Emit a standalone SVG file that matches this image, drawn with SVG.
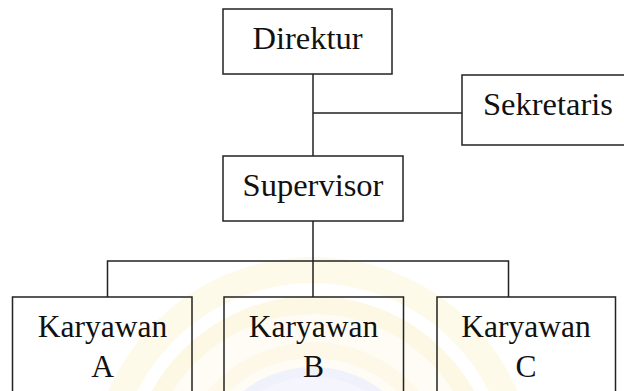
<svg xmlns="http://www.w3.org/2000/svg" width="624" height="391" viewBox="0 0 624 391">
  <style>
    .box { fill: none; stroke: #222; stroke-width: 1.5; }
    .line { fill: none; stroke: #222; stroke-width: 1.5; }
    .label { font-family: "Liberation Serif", "Times New Roman", serif; font-size: 32.5px; fill: #111; text-anchor: middle; }
    .small { font-size: 31.5px; }
  </style>
  <rect width="624" height="391" fill="#ffffff"/>
  <g id="watermark" opacity="0.55">
    <circle cx="313" cy="480" r="210" fill="none" stroke="#fdf6d8" stroke-width="26"/>
    <circle cx="313" cy="480" r="175" fill="#fefbec" stroke="#fcf3cf" stroke-width="18"/>
    <circle cx="313" cy="480" r="130" fill="none" stroke="#fcf4d4" stroke-width="16"/>
    <circle cx="313" cy="480" r="108" fill="#eef0fc" stroke="#e3e6f9" stroke-width="10"/>
  </g>
  <g id="connectors">
    <path class="line" d="M313 74 V156 M313 113 H462 M313 221 V297 M107.5 297 V261 H508.5 V297"/>
  </g>
  <g id="direktur">
    <rect class="box" x="223" y="9" width="169" height="65"/>
    <text class="label" x="307.5" y="48.5">Direktur</text>
  </g>
  <g id="sekretaris">
    <rect class="box" x="462" y="75" width="170" height="70"/>
    <text class="label" x="548" y="114.5">Sekretaris</text>
  </g>
  <g id="supervisor">
    <rect class="box" x="223" y="156" width="180" height="65"/>
    <text class="label" x="313" y="196">Supervisor</text>
  </g>
  <g id="karyawan-a">
    <rect class="box" x="12.5" y="297" width="179.5" height="110"/>
    <text class="label small" x="102.5" y="337">Karyawan</text>
    <text class="label small" x="102.5" y="377">A</text>
  </g>
  <g id="karyawan-b">
    <rect class="box" x="224" y="297" width="179.5" height="110"/>
    <text class="label small" x="313.5" y="337">Karyawan</text>
    <text class="label small" x="313.5" y="377">B</text>
  </g>
  <g id="karyawan-c">
    <rect class="box" x="437" y="297" width="178.5" height="110"/>
    <text class="label small" x="526" y="337">Karyawan</text>
    <text class="label small" x="526" y="377">C</text>
  </g>
</svg>
